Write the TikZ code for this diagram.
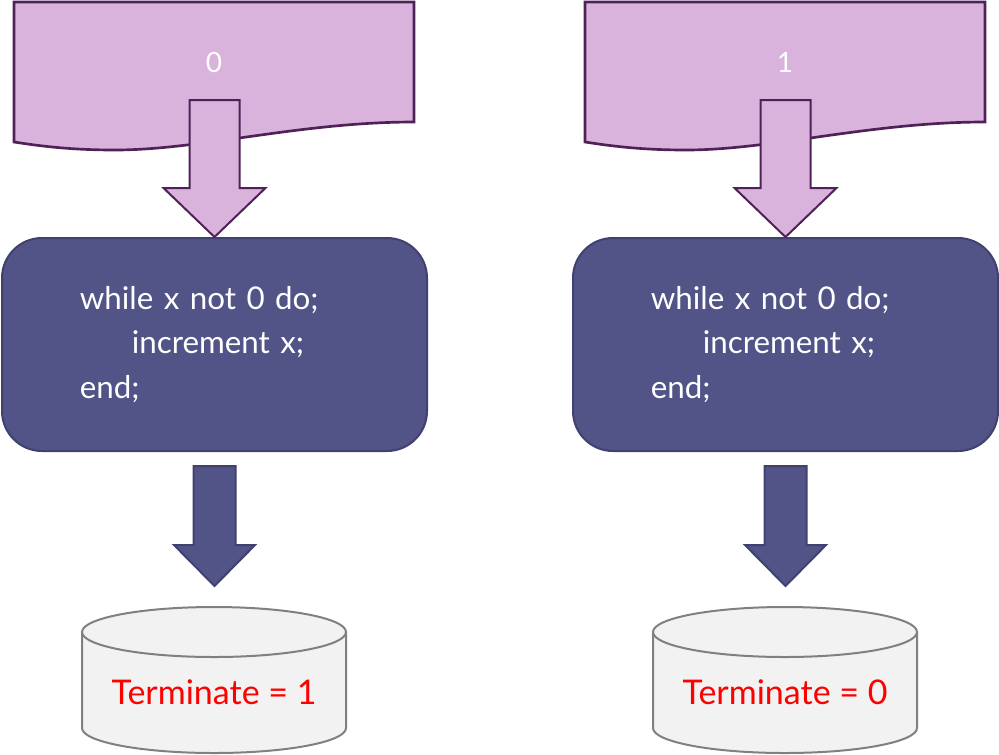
\documentclass[tikz,border=0pt]{standalone}
\usepackage{fontspec}
\setmainfont{Lato}
\usetikzlibrary{calc}

\definecolor{lilac}{HTML}{D9B3DC}
\definecolor{plum}{HTML}{4F2157}
\definecolor{slate}{HTML}{525488}
\definecolor{slateline}{HTML}{40416F}
\definecolor{drumfill}{HTML}{F2F2F2}
\definecolor{drumline}{HTML}{808080}

\begin{document}
\begin{tikzpicture}[
	x=0.75pt, y=-0.75pt,
	inputdoc/.style={
		fill=lilac,
		draw=plum,
		line width=2pt
	},
	inputarrow/.style={fill=lilac, draw=plum, line width=1.5pt},
	inputtext/.style={text=white, font=\fontsize{21}{25}\selectfont},
	loopbox/.style={
		draw=slateline,
		fill=slate,
		line width=1.5pt,
		rounded corners=30pt,
		minimum width=318.75pt,
		minimum height=159.75pt,
		text=white,
		align=left,
		text width=202pt,
		font=\fontsize{23.5}{33.5}\selectfont
	},
	looparrow/.style={fill=slate, draw=slateline, line width=1.5pt},
	drum/.style={fill=drumfill, draw=drumline, line width=1.5pt},
	resulttext/.style={text=red, font=\fontsize{25.5}{30}\selectfont}
]
\useasboundingbox (0,0) rectangle (999,754);

\foreach \dx/\inval/\outval/\side in {0/0/1/l, 571/1/0/r}{
\begin{scope}[xshift={\dx*0.75pt}]
	% input document
	\draw[inputdoc] (14,2) -- (414,2) -- (414,122)
		.. controls (300,122) and (200,150) .. (115,150)
		.. controls (70,150) and (40,146) .. (14,142) -- cycle;
	\node[inputtext] (input-\side) at (214,62) {\inval};

	% program
	\node[loopbox] (loop-\side) at (214.5,344.5)
		{while x not 0 do;\\ \hspace*{39pt}increment x;\\ end;};

	\draw[inputarrow] (loop-\side.north) -- ++(51,-49) -- ++(-26,0) -- ++(0,-88)
		-- ++(-50,0) -- ++(0,88) -- ++(-26,0) -- cycle;

	% result
	\draw[drum] (82,632) -- (82,728) arc[start angle=180, end angle=0, x radius=132, y radius=25] -- (346,632);
	\draw[drum] (214,632) ellipse [x radius=132, y radius=25];
	\node[resulttext] (result-\side) at (214,692) {Terminate = \outval};

	\draw[looparrow] ($(loop-\side.south)+(-21,14)$) -- ++(42,0) -- ++(0,79) -- ++(19.5,0)
		-- ++(-40.5,41) -- ++(-40.5,-41) -- ++(19.5,0) -- cycle;
\end{scope}
}
\end{tikzpicture}
\end{document}
